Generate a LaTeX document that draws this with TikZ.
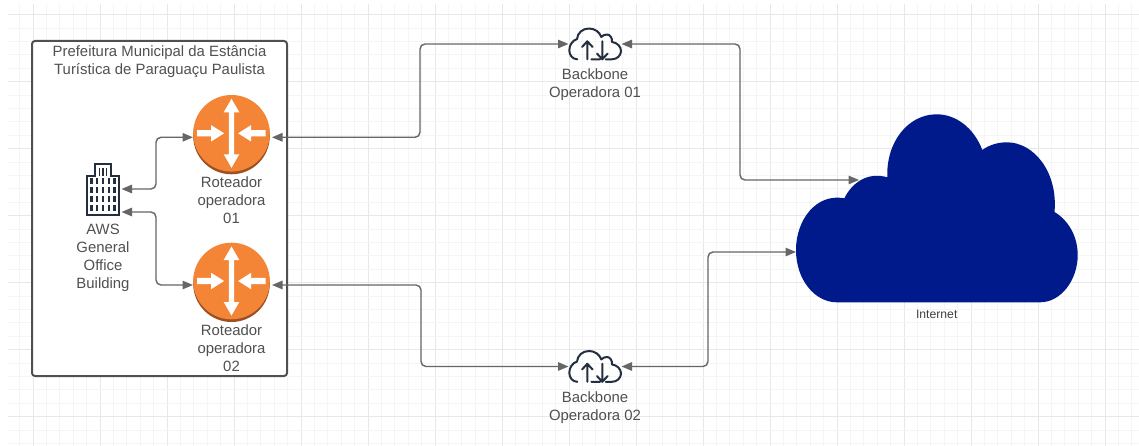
\documentclass[tikz,border=0pt]{standalone}
\usepackage{fontspec}
\setmainfont{Liberation Sans}
\usetikzlibrary{arrows.meta}
\definecolor{gridMinor}{HTML}{F5F5F5}
\definecolor{gridMajor}{HTML}{E8E8E8}
\definecolor{lineGray}{HTML}{666666}
\definecolor{textGray}{HTML}{505050}
\definecolor{iconNavy}{HTML}{232F3E}
\definecolor{routerOrange}{HTML}{F58536}
\definecolor{routerDark}{HTML}{9D5025}
\definecolor{cloudBlue}{HTML}{001A8C}
\tikzset{
    link/.style={draw=lineGray, line width=1.4pt, rounded corners=5pt, {Triangle[length=10.5pt,width=8.5pt]}-{Triangle[length=10.5pt,width=8.5pt]}},
    lbl/.style={text=textGray, align=center, inner sep=0pt, font=\fontsize{14.9}{18}\selectfont},
    box/.style={inner sep=0pt, outer sep=0pt},
    pics/routerIcon/.style={code={
        \fill[routerDark] (0,2.7) circle[radius=38.3];
        \fill[routerOrange] (0,0) circle[radius=38.3];
        \fill[white] (-2.7,-21) -- (-7.8,-21) -- (0,-34.5) -- (7.8,-21) -- (2.7,-21) -- (2.7,21) -- (7.8,21) -- (0,34.5) -- (-7.8,21) -- (-2.7,21) -- cycle;
        \fill[white] (-34.4,-3.2) -- (-20.4,-3.2) -- (-20.4,-8.2) -- (-7.4,0) -- (-20.4,8.2) -- (-20.4,3.2) -- (-34.4,3.2) -- cycle;
        \fill[white] (34,-3.2) -- (19.6,-3.2) -- (19.6,-8.2) -- (6.6,0) -- (19.6,8.2) -- (19.6,3.2) -- (34,3.2) -- cycle;
    }},
    pics/backboneIcon/.style={code={
        \draw[iconNavy, line width=2pt, line cap=round, line join=round]
            (-17.7,15.3) .. controls (-22.5,15.3) and (-25.7,11) .. (-25.7,6.3)
            .. controls (-25.7,1) and (-22.5,-3.5) .. (-18,-5)
            .. controls (-17.5,-11) and (-12.5,-15.5) .. (-6,-15.5)
            .. controls (0,-15.5) and (4.5,-12) .. (6.3,-7)
            .. controls (7.5,-8.5) and (9.5,-9.5) .. (12,-9.5)
            .. controls (15,-9.5) and (17.5,-6) .. (17,-2)
            .. controls (22,-1.5) and (26,2.5) .. (26,7)
            .. controls (26,11.5) and (22,15.3) .. (17,15.3) -- (10.7,15.3);
        \draw[iconNavy, line width=2pt, line cap=round, line join=round]
            (-3.7,15.3) -- (5,15.3)
            (-7.7,15.3) -- (-7.7,-2.7) (-13,3) -- (-7.7,-2.7) -- (-2.4,3)
            (7.3,-2.7) -- (7.3,15.3) (2,9.6) -- (7.3,15.3) -- (12.6,9.6);
    }},
    pics/buildingIcon/.style={code={
        \draw[iconNavy, line width=2pt, line join=miter]
            (-16.3,25.5) -- (-16.3,-13.3) -- (-7.8,-13.3) -- (-7.8,-25.5) -- (7.8,-25.5) -- (7.8,-13.3) -- (16.3,-13.3) -- (16.3,25.5) -- cycle;
        \foreach \cx in {-3.3,0,3.3}
            \draw[iconNavy, line width=1.5pt] (\cx,-21.5) -- (\cx,-13);
        \foreach \ry in {-8.5,0.5,9.5,18.5}
            \foreach \cx in {-11.5,-5.7,0,5.7,11.5}
                \draw[iconNavy, line width=2.2pt] (\cx,\ry-2.8) -- (\cx,\ry+2.8);
    }}
}
\begin{document}
\begin{tikzpicture}[x=1pt, y=-1pt]
\useasboundingbox (0,0) rectangle (1139,446);
\fill[white] (0,0) rectangle (1139,446);
% grid
\foreach \i in {-1,...,82} {
    \pgfmathtruncatemacro{\m}{mod(\i+5,5)}
    \ifnum\m=0 \draw[gridMajor, line width=1pt] (33+13.4*\i,4) -- (33+13.4*\i,446);
    \else \draw[gridMinor, line width=1pt] (33+13.4*\i,4) -- (33+13.4*\i,446); \fi
}
\foreach \i in {0,...,32} {
    \pgfmathtruncatemacro{\m}{mod(\i,5)}
    \ifnum\m=0 \draw[gridMajor, line width=1pt] (8,14.7+13.4*\i) -- (1139,14.7+13.4*\i);
    \else \draw[gridMinor, line width=1pt] (8,14.7+13.4*\i) -- (1139,14.7+13.4*\i); \fi
}

% prefeitura
\node[box, draw=textGray, line width=2pt, rounded corners=3pt, minimum width=255pt, minimum height=335pt, fill=white] (frame) at (159.5,208.5) {};
\node[lbl] (frameTxt) at (159.5,62) {Prefeitura Municipal da Estância\\Turística de Paraguaçu Paulista};

% nodes
\node[box, minimum width=77pt, minimum height=84pt] (rtrOne) at (231.5,137.3) {};
\pic at ([yshift=4pt]rtrOne.center) {routerIcon};
\node[lbl] (rtrOneTxt) at (231.5,200) {Roteador\\operadora\\01};
\node[box, minimum width=77pt, minimum height=84pt] (rtrTwo) at (231.5,285) {};
\pic at ([yshift=4pt]rtrTwo.center) {routerIcon};
\node[lbl] (rtrTwoTxt) at (231.5,348) {Roteador\\operadora\\02};
\node[box, minimum width=37pt, minimum height=52pt] (office) at (103,189.5) {};
\pic at (office.center) {buildingIcon};
\node[lbl] (officeTxt) at (103,258) {AWS\\General\\Office\\Building};
\node[box, minimum width=53pt, minimum height=32pt] (bbOne) at (595,44) {};
\pic at (bbOne.center) {backboneIcon};
\node[lbl] (bbOneTxt) at (595,85) {Backbone\\Operadora 01};
\node[box, minimum width=53pt, minimum height=32pt] (bbTwo) at (595,366.5) {};
\pic at (bbTwo.center) {backboneIcon};
\node[lbl] (bbTwoTxt) at (595,408) {Backbone\\Operadora 02};

% internet
\fill[cloudBlue] (836.7,302.3) -- (1040,302.3)
    .. controls (1061,302.3) and (1077.7,280) .. (1077.7,255)
    .. controls (1077.7,236) and (1068,220) .. (1054.5,212)
    .. controls (1058,172) and (1034,142.3) .. (1006.7,142.3)
    .. controls (998,142.3) and (989,145) .. (982.3,150)
    .. controls (974,128) and (956,114.3) .. (936.7,114.3)
    .. controls (908,114.3) and (886,142) .. (887.3,177.3)
    .. controls (869,172) and (853,181) .. (844.3,198.3)
    .. controls (816,193) and (796,220) .. (796,250)
    .. controls (796,280) and (815,302.3) .. (836.7,302.3) -- cycle;
\node[box, minimum width=281pt, minimum height=188pt] (inet) at (937,208) {};
\node[lbl, text=black!75, font=\fontsize{12.2}{14}\selectfont] (inetTxt) at (936.7,314) {Internet};
\coordinate (inetUp) at (859,180);
\coordinate (inetLow) at (796,252);

% connectors
\coordinate (midA) at (420,90);
\coordinate (midB) at (740,120);
\coordinate (midC) at (421,320);
\coordinate (midD) at (708,310);
\coordinate (midE) at (156,160);
\coordinate (midF) at (156,250);
\draw[link, shorten <=2pt] (rtrOne.east) -| (midA) |- (bbOne.west);
\draw[link] (bbOne.east) -| (midB) |- (inetUp);
\draw[link, shorten <=2pt] (rtrTwo.east) -| (midC) |- (bbTwo.west);
\draw[link] (bbTwo.east) -| (midD) |- (inetLow);
\draw[link] (office.east |- 0,189) -| (midE) |- (rtrOne.west);
\draw[link] (office.east |- 0,212) -| (midF) |- (rtrTwo.west);
\end{tikzpicture}
\end{document}
